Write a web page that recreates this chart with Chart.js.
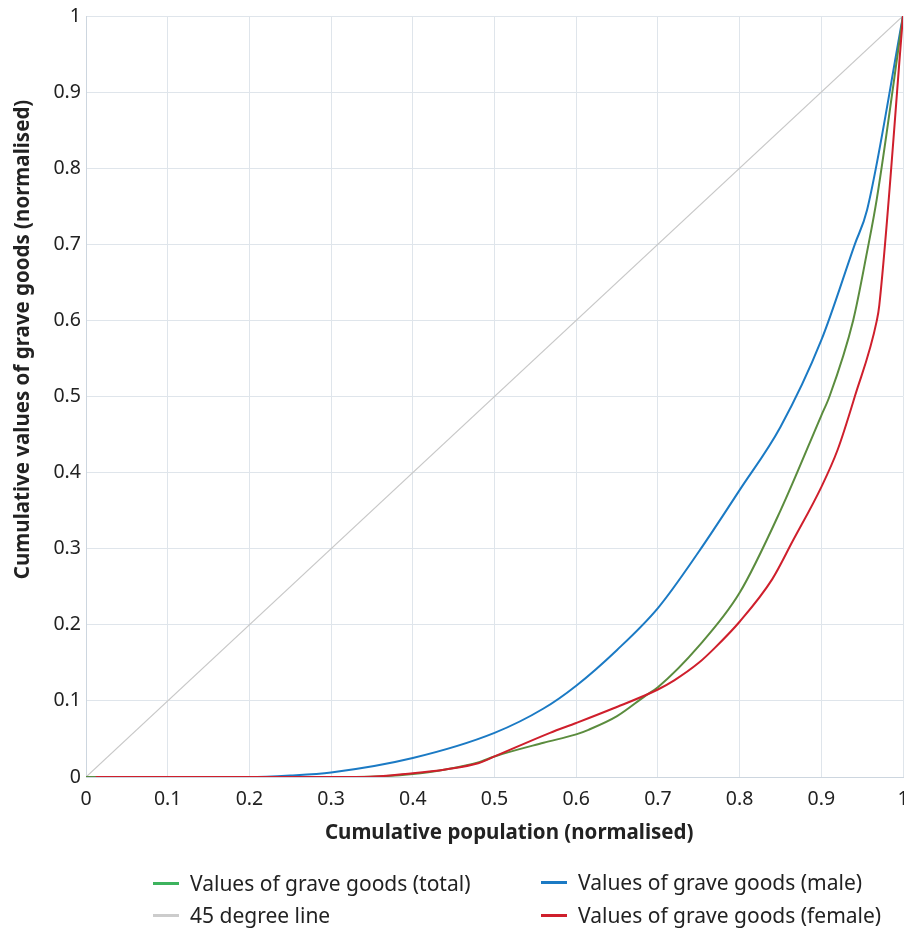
<!DOCTYPE html>
<html>
<head>
<meta charset="utf-8">
<script src="https://cdn.jsdelivr.net/npm/chart.js@4.4.1/dist/chart.umd.min.js"></script>
<style>
  html, body { margin: 0; padding: 0; background: #fff; }
  #wrap { position: relative; width: 904px; height: 930px; }
  #legend { position: absolute; left: 0; top: 0; width: 904px; height: 930px; pointer-events: none;
            font-family: "Noto Sans", sans-serif; font-size: 21px; color: #222; }
  .item { position: absolute; display: flex; align-items: center; height: 26px; white-space: nowrap; }
  .item span.sw { display: inline-block; width: 26px; height: 3px; margin-right: 11px; }
</style>
</head>
<body>
<div id="wrap">
  <canvas id="chart" width="904" height="930"></canvas>
  <div id="legend"></div>
</div>
<script>
// cumulative population share (x) vs cumulative grave-good value share (y)
const totalX = [0, 0.33, 0.4, 0.44, 0.48, 0.5, 0.56, 0.6, 0.615, 0.65, 0.685, 0.7, 0.75, 0.8, 0.85, 0.9, 0.91, 0.939, 0.956, 0.968, 1];
const totalY = [0, 0, 0.004, 0.01, 0.019, 0.027, 0.045, 0.056, 0.062, 0.08, 0.107, 0.118, 0.172, 0.242, 0.35, 0.475, 0.5, 0.6, 0.69, 0.76, 1];

const maleX = [0, 0.2, 0.25, 0.3, 0.4, 0.5, 0.56, 0.6, 0.65, 0.7, 0.75, 0.8, 0.85, 0.9, 0.941, 0.956, 1];
const maleY = [0, 0, 0.002, 0.006, 0.025, 0.058, 0.09, 0.12, 0.167, 0.222, 0.296, 0.377, 0.46, 0.574, 0.7, 0.745, 1];

const femaleX = [0.012, 0.34, 0.4, 0.44, 0.48, 0.5, 0.568, 0.6, 0.645, 0.7, 0.72, 0.75, 0.77, 0.8, 0.84, 0.865, 0.9, 0.92, 0.941, 0.968, 0.971, 1];
const femaleY = [0, 0, 0.005, 0.01, 0.018, 0.027, 0.058, 0.071, 0.09, 0.115, 0.127, 0.15, 0.17, 0.204, 0.26, 0.31, 0.381, 0.43, 0.5, 0.6, 0.62, 1];

const equalityX = [0, 1];
const equalityY = [0, 1];

const labels = {
  total: "Values of grave goods (total)",
  male: "Values of grave goods (male)",
  equality: "45 degree line",
  female: "Values of grave goods (female)"
};

const toPoints = (xs, ys) => xs.map((x, i) => ({ x, y: ys[i] }));
const fmt = v => String(Math.round(v * 10) / 10);
const FONT = '"Noto Sans", sans-serif';

// axis titles drawn by hand so they can sit off-centre
const axisTitles = {
  id: "axisTitles",
  afterDraw(chart) {
    const { ctx, chartArea } = chart;
    ctx.save();
    ctx.fillStyle = "#222";
    ctx.font = "bold 20.5px " + FONT;
    ctx.textAlign = "center";
    ctx.textBaseline = "middle";
    ctx.fillText("Cumulative population (normalised)", chartArea.left + chartArea.width * 0.518, chartArea.bottom + 56);
    ctx.translate(23, chartArea.top + chartArea.height * 0.425);
    ctx.rotate(-Math.PI / 2);
    ctx.fillText("Cumulative values of grave goods (normalised)", 0, 0);
    ctx.restore();
  }
};

const series = [
  { key: "total", x: totalX, y: totalY, color: "#5b8c3e", swatch: "#3db35e", width: 2 },
  { key: "male", x: maleX, y: maleY, color: "#1b7ac4", swatch: "#1b7ac4", width: 2 },
  { key: "equality", x: equalityX, y: equalityY, color: "#c8c8c8", swatch: "#cccccc", width: 1.2 },
  { key: "female", x: femaleX, y: femaleY, color: "#cf1f2c", swatch: "#cf1f2c", width: 2 }
];

const chart = new Chart(document.getElementById("chart"), {
  type: "line",
  data: {
    datasets: series.map(s => ({
      label: labels[s.key],
      data: toPoints(s.x, s.y),
      borderColor: s.color,
      backgroundColor: s.color,
      borderWidth: s.width,
      pointRadius: 0,
      fill: false,
      cubicInterpolationMode: "monotone",
      order: s.key === "equality" ? 10 : (s.key === "female" ? 0 : 1)
    }))
  },
  options: {
    responsive: false,
    animation: false,
    layout: { padding: { left: 0, right: 1, top: 16, bottom: 83 } },
    plugins: {
      legend: { display: false },
      tooltip: { enabled: false }
    },
    scales: {
      x: {
        type: "linear",
        min: 0,
        max: 1,
        grid: { color: "#dfe5eb", drawTicks: false },
        border: { color: "#cdd6df" },
        ticks: { stepSize: 0.1, padding: 11, color: "#222", font: { family: FONT, size: 19.5 }, callback: fmt },
        afterFit(scale) { scale.height = 70; scale.paddingLeft = 0; scale.paddingRight = 0; }
      },
      y: {
        min: 0,
        max: 1,
        grid: { color: "#dfe5eb", drawTicks: false },
        border: { color: "#cdd6df" },
        ticks: { stepSize: 0.1, padding: 5, color: "#222", font: { family: FONT, size: 19.5 }, callback: fmt },
        afterFit(scale) { scale.width = 86; scale.paddingTop = 0; scale.paddingBottom = 0; }
      }
    }
  },
  plugins: [axisTitles]
});

// two-column legend under the plot
const legendPos = {
  total: { left: 153, top: 870 },
  male: { left: 541, top: 869 },
  equality: { left: 153, top: 902 },
  female: { left: 541, top: 902 }
};
const legendEl = document.getElementById("legend");
series.forEach(s => {
  const item = document.createElement("div");
  item.className = "item";
  item.style.left = legendPos[s.key].left + "px";
  item.style.top = legendPos[s.key].top + "px";
  const sw = document.createElement("span");
  sw.className = "sw";
  sw.style.background = s.swatch;
  item.appendChild(sw);
  item.appendChild(document.createTextNode(labels[s.key]));
  legendEl.appendChild(item);
});
</script>
</body>
</html>
